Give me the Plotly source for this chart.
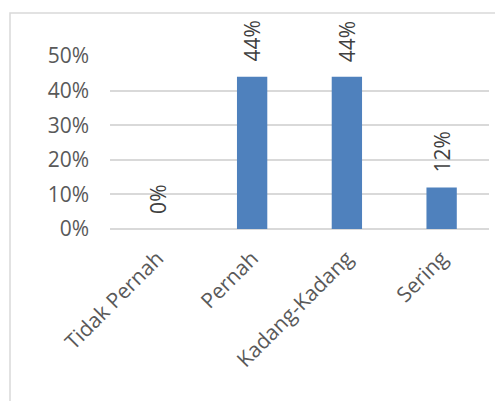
import plotly.graph_objects as go

categories = ["Tidak Pernah", "Pernah", "Kadang-Kadang", "Sering"]
values = [0.0, 0.44, 0.44, 0.12]
labels = ["0%", "44%", "44%", "12%"]
y_ticks = [0, 0.1, 0.2, 0.3, 0.4, 0.5]
y_tick_text = ["0%", "10%", "20%", "30%", "40%", "50%"]

W, H = 495, 401
ML, MR, MT, MB = 110, 6, 56, 172
FONT = "Open Sans"

fig = go.Figure()
fig.add_trace(go.Bar(
    x=categories, y=values,
    marker=dict(color="#4F81BD", line=dict(width=0)),
    width=0.32,
    hoverinfo="skip",
))

for c, v, t in zip(categories, values, labels):
    fig.add_annotation(
        x=c, y=v, text=t, textangle=-90, showarrow=False,
        xanchor="center", yanchor="bottom", yshift=13,
        font=dict(family=FONT, size=21, color="#404040"),
    )

pw = W - ML - MR
ph = H - MT - MB
fig.add_shape(
    type="rect", xref="paper", yref="paper",
    x0=(10 - ML) / pw, x1=(W + 20 - ML) / pw,
    y0=-(H + 20 - MT - ph) / ph, y1=(H - MB - 13) / ph * 0 + (ph + MT - 13) / ph,
    line=dict(color="#D9D9D9", width=1.5), fillcolor="rgba(0,0,0,0)", layer="below",
)

fig.update_layout(
    width=W, height=H,
    margin=dict(l=ML, r=MR, t=MT, b=MB, pad=0),
    paper_bgcolor="white", plot_bgcolor="white",
    showlegend=False,
    font=dict(family=FONT, size=21, color="#595959"),
    xaxis=dict(
        tickangle=-45, showgrid=False, zeroline=False, showline=False,
        ticks="", ticklabelstandoff=12,
        tickfont=dict(family=FONT, size=21, color="#595959"),
        range=[-0.5, 3.5],
    ),
    yaxis=dict(
        range=[0, 0.5], tickvals=y_ticks, ticktext=y_tick_text,
        showgrid=True, gridcolor="#D9D9D9", gridwidth=1.5,
        zeroline=True, zerolinecolor="#D9D9D9", zerolinewidth=1.5,
        showline=False, ticks="", ticklabelstandoff=20,
        tickfont=dict(family=FONT, size=21, color="#595959"),
    ),
)

fig.write_html("out.html")
